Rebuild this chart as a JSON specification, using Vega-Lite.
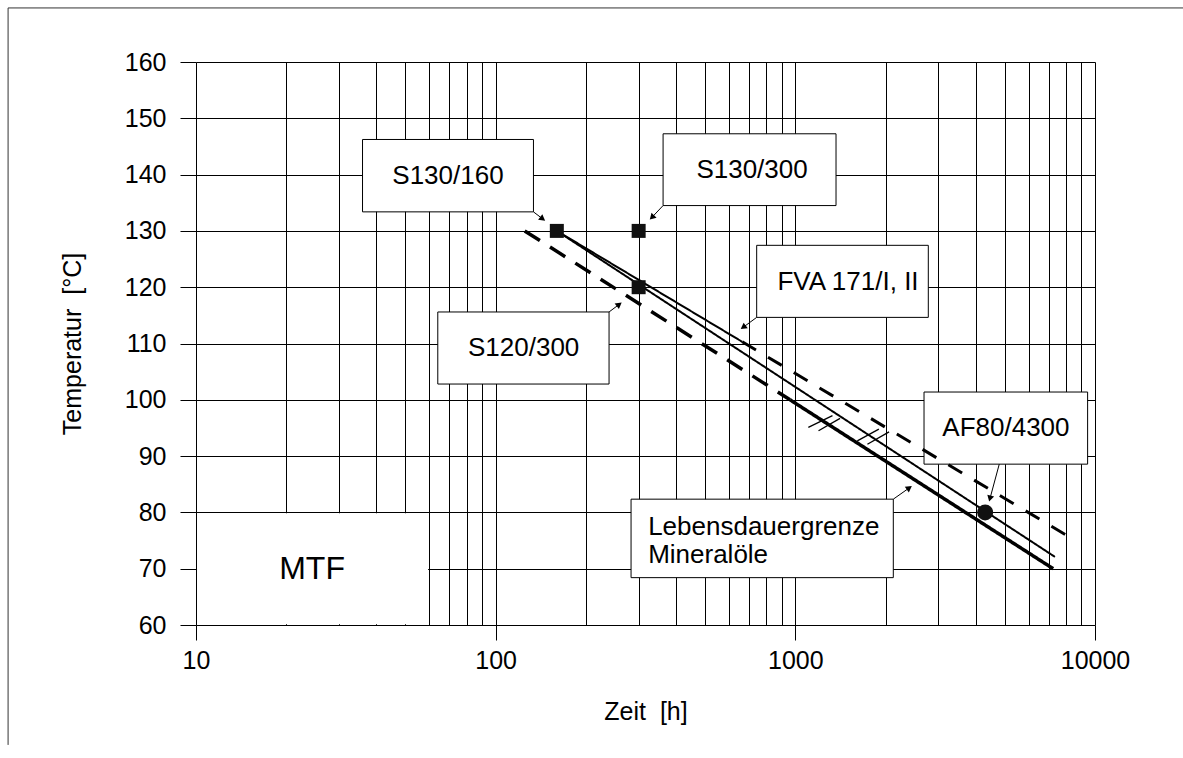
{
  "$schema": "https://vega.github.io/schema/vega-lite/v6.json",
  "width": 899,
  "height": 563,
  "autosize": "none",
  "padding": {"left": 196, "top": 62, "right": 88, "bottom": 133},
  "background": "white",
  "config": {
    "view": {"stroke": null},
    "font": "Liberation Sans",
    "axis": {
      "labelFont": "Liberation Sans",
      "titleFont": "Liberation Sans",
      "labelFontSize": 25,
      "titleFontSize": 25,
      "titleFontWeight": "normal",
      "labelColor": "#000",
      "titleColor": "#000",
      "grid": true,
      "gridColor": "#000",
      "gridOpacity": 1,
      "gridWidth": 1,
      "domain": false,
      "tickColor": "#000",
      "tickWidth": 1
    }
  },
  "datasets": {
    "boxes": [
      {"name": "S130/160", "x1": 35.95, "x2": 133.7, "y1": 133.38, "y2": 146.24},
      {"name": "S130/300", "x1": 362, "x2": 1367, "y1": 134.5, "y2": 147.25},
      {"name": "FVA 171/I, II", "x1": 743, "x2": 2778, "y1": 114.64, "y2": 127.44},
      {"name": "S120/300", "x1": 64.1, "x2": 239, "y1": 102.8, "y2": 115.6},
      {"name": "Lebensdauergrenze", "x1": 283, "x2": 2123, "y1": 68.41, "y2": 82.35},
      {"name": "AF80/4300", "x1": 2688, "x2": 9448, "y1": 88.57, "y2": 101.38}
    ],
    "mtf": [
      {"name": "MTF", "x1": 10.08, "x2": 59.5, "y1": 60.15, "y2": 79.85}
    ],
    "arrows": [
      {"name": "S130/160", "x1": 133.7, "y1": 133.38, "x2": 143.5, "y2": 132.14},
      {"name": "S130/300", "x1": 362, "y1": 134.5, "x2": 332.2, "y2": 132.4},
      {"name": "S120/300", "x1": 239, "y1": 115.6, "x2": 258.4, "y2": 116.95},
      {"name": "FVA 171/I, II", "x1": 743, "y1": 114.64, "x2": 670, "y2": 112.88},
      {"name": "Lebensdauergrenze", "x1": 2123, "y1": 82.35, "x2": 2401, "y2": 84.36},
      {"name": "AF80/4300", "x1": 4792, "y1": 88.57, "x2": 4461, "y2": 82.44}
    ],
    "lines": [
      {"seg": "FVA", "zeit": 160, "temp": 130},
      {"seg": "FVA", "zeit": 665, "temp": 110.3},
      {"seg": "FVA ext", "zeit": 665, "temp": 110.3},
      {"seg": "FVA ext", "zeit": 8000, "temp": 76},
      {"seg": "Versuche", "zeit": 160, "temp": 130},
      {"seg": "Versuche", "zeit": 7350, "temp": 72.1},
      {"seg": "Grenze ext", "zeit": 125, "temp": 130},
      {"seg": "Grenze ext", "zeit": 960, "temp": 100},
      {"seg": "Grenze", "zeit": 960, "temp": 100},
      {"seg": "Grenze", "zeit": 7250, "temp": 70}
    ],
    "hatch": [
      {"h": "1a", "x1": 1105, "y1": 95.1, "x2": 1330, "y2": 97.2},
      {"h": "1b", "x1": 1195, "y1": 94.5, "x2": 1410, "y2": 96.7},
      {"h": "2a", "x1": 1610, "y1": 92.7, "x2": 1900, "y2": 94.8},
      {"h": "2b", "x1": 1740, "y1": 92.1, "x2": 2055, "y2": 94.3}
    ],
    "points": [
      {"name": "S130/160", "zeit": 160, "temp": 130, "typ": "S"},
      {"name": "S130/300", "zeit": 300, "temp": 130, "typ": "S"},
      {"name": "S120/300", "zeit": 300, "temp": 120, "typ": "S"},
      {"name": "AF80/4300", "zeit": 4300, "temp": 80, "typ": "AF"}
    ],
    "labels": [
      {"text": "S130/160", "zeit": 69.3, "temp": 139.8},
      {"text": "S130/300", "zeit": 717, "temp": 140.9},
      {"text": "FVA 171/I, II", "zeit": 1499, "temp": 121.0},
      {"text": "S120/300", "zeit": 124, "temp": 109.2},
      {"text": "AF80/4300", "zeit": 5044, "temp": 95.0}
    ],
    "leftlabels": [
      {"text": "Lebensdauergrenze\nMineralöle", "zeit": 322.7, "temp": 77.4}
    ],
    "mtflabel": [
      {"text": "MTF", "zeit": 24.4, "temp": 70}
    ],
    "frame": [
      {"x1": 2.36, "y1": 169.6, "x2": 2.36, "y2": 38.7},
      {"x1": 2.36, "y1": 169.6, "x2": 30000, "y2": 169.6}
    ]
  },
  "layer": [
    {
      "data": {"name": "boxes"},
      "mark": {"type": "rect", "fill": "white", "stroke": "#000", "strokeWidth": 1},
      "encoding": {
        "x": {
          "field": "x1", "type": "quantitative",
          "scale": {"type": "log", "domain": [10, 10000], "nice": false},
          "axis": {
            "values": [10, 20, 30, 40, 50, 60, 70, 80, 90, 100, 200, 300, 400, 500, 600, 700, 800, 900, 1000, 2000, 3000, 4000, 5000, 6000, 7000, 8000, 9000, 10000],
            "tickSize": 15,
            "tickOpacity": {"condition": {"test": "datum.value == 10 || datum.value == 100 || datum.value == 1000 || datum.value == 10000", "value": 1}, "value": 0},
            "labelExpr": "(datum.value == 10 || datum.value == 100 || datum.value == 1000 || datum.value == 10000) ? format(datum.value, 'd') : ''",
            "labelFlush": false,
            "labelOverlap": false,
            "labelBound": false,
            "labelPadding": 8,
            "title": "Zeit \u00a0[h]",
            "titlePadding": 26
          }
        },
        "x2": {"field": "x2"},
        "y": {
          "field": "y1", "type": "quantitative",
          "scale": {"domain": [60, 160], "nice": false, "zero": false},
          "axis": {
            "values": [60, 70, 80, 90, 100, 110, 120, 130, 140, 150, 160],
            "tickSize": 16,
            "labelPadding": 14,
            "title": "Temperatur \u00a0[°C]",
            "titlePadding": 39
          }
        },
        "y2": {"field": "y2"}
      }
    },
    {
      "data": {"name": "mtf"},
      "mark": {"type": "rect", "fill": "white", "strokeWidth": 0},
      "encoding": {
        "x": {"field": "x1", "type": "quantitative", "scale": {"type": "log", "domain": [10, 10000]}},
        "x2": {"field": "x2"},
        "y": {"field": "y1", "type": "quantitative", "scale": {"domain": [60, 160]}},
        "y2": {"field": "y2"}
      }
    },
    {
      "data": {"name": "arrows"},
      "mark": {"type": "rule", "color": "#000", "strokeWidth": 1},
      "encoding": {
        "x": {"field": "x1", "type": "quantitative", "scale": {"type": "log", "domain": [10, 10000]}},
        "x2": {"field": "x2"},
        "y": {"field": "y1", "type": "quantitative", "scale": {"domain": [60, 160]}},
        "y2": {"field": "y2"}
      }
    },
    {
      "data": {"name": "arrows"},
      "mark": {"type": "point", "shape": "triangle-up", "filled": true, "color": "#000", "size": 50, "opacity": 1},
      "encoding": {
        "x": {"field": "x2", "type": "quantitative", "scale": {"type": "log", "domain": [10, 10000]}},
        "y": {"field": "y2", "type": "quantitative", "scale": {"domain": [60, 160]}},
        "angle": {
          "field": "name", "type": "nominal", "legend": null,
          "scale": {"type": "ordinal",
            "domain": ["S130/160", "S130/300", "S120/300", "FVA 171/I, II", "Lebensdauergrenze", "AF80/4300"],
            "range": [127, 224, 53, 234, 55, 195]}
        }
      }
    },
    {
      "data": {"name": "lines"},
      "mark": {"type": "line", "color": "#000", "strokeCap": "butt"},
      "encoding": {
        "x": {"field": "zeit", "type": "quantitative", "scale": {"type": "log", "domain": [10, 10000]}},
        "y": {"field": "temp", "type": "quantitative", "scale": {"domain": [60, 160]}},
        "detail": {"field": "seg", "type": "nominal"},
        "strokeWidth": {
          "field": "seg", "type": "nominal", "legend": null,
          "scale": {"type": "ordinal",
            "domain": ["FVA", "FVA ext", "Versuche", "Grenze ext", "Grenze"],
            "range": [2, 3, 2, 3.5, 3.5]}
        },
        "strokeDash": {
          "field": "seg", "type": "nominal", "legend": null,
          "scale": {
            "domain": ["FVA", "FVA ext", "Versuche", "Grenze ext", "Grenze"],
            "range": [[1, 0], [16, 14], [1, 0], [18, 12], [1, 0]]}
        }
      }
    },
    {
      "data": {"name": "hatch"},
      "mark": {"type": "rule", "color": "#000", "strokeWidth": 1.3},
      "encoding": {
        "x": {"field": "x1", "type": "quantitative", "scale": {"type": "log", "domain": [10, 10000]}},
        "x2": {"field": "x2"},
        "y": {"field": "y1", "type": "quantitative", "scale": {"domain": [60, 160]}},
        "y2": {"field": "y2"}
      }
    },
    {
      "data": {"name": "points"},
      "mark": {"type": "point", "filled": true, "color": "#111", "opacity": 1},
      "encoding": {
        "x": {"field": "zeit", "type": "quantitative", "scale": {"type": "log", "domain": [10, 10000]}},
        "y": {"field": "temp", "type": "quantitative", "scale": {"domain": [60, 160]}},
        "shape": {"field": "typ", "type": "nominal", "legend": null,
          "scale": {"domain": ["S", "AF"], "range": ["square", "circle"]}},
        "size": {"field": "typ", "type": "nominal", "legend": null,
          "scale": {"type": "ordinal", "domain": ["S", "AF"], "range": [196, 256]}}
      }
    },
    {
      "data": {"name": "labels"},
      "mark": {"type": "text", "font": "Liberation Sans", "fontSize": 26, "align": "center", "baseline": "middle", "color": "#000"},
      "encoding": {
        "x": {"field": "zeit", "type": "quantitative", "scale": {"type": "log", "domain": [10, 10000]}},
        "y": {"field": "temp", "type": "quantitative", "scale": {"domain": [60, 160]}},
        "text": {"field": "text"}
      }
    },
    {
      "data": {"name": "leftlabels"},
      "mark": {"type": "text", "font": "Liberation Sans", "fontSize": 26, "align": "left", "baseline": "middle", "lineBreak": "\n", "lineHeight": 28, "color": "#000"},
      "encoding": {
        "x": {"field": "zeit", "type": "quantitative", "scale": {"type": "log", "domain": [10, 10000]}},
        "y": {"field": "temp", "type": "quantitative", "scale": {"domain": [60, 160]}},
        "text": {"field": "text"}
      }
    },
    {
      "data": {"name": "mtflabel"},
      "mark": {"type": "text", "font": "Liberation Sans", "fontSize": 32, "align": "center", "baseline": "middle", "color": "#000"},
      "encoding": {
        "x": {"field": "zeit", "type": "quantitative", "scale": {"type": "log", "domain": [10, 10000]}},
        "y": {"field": "temp", "type": "quantitative", "scale": {"domain": [60, 160]}},
        "text": {"field": "text"}
      }
    },
    {
      "data": {"name": "frame"},
      "mark": {"type": "rule", "color": "#333", "strokeWidth": 1, "clip": false},
      "encoding": {
        "x": {"field": "x1", "type": "quantitative", "scale": {"type": "log", "domain": [10, 10000]}},
        "x2": {"field": "x2"},
        "y": {"field": "y1", "type": "quantitative", "scale": {"domain": [60, 160]}},
        "y2": {"field": "y2"}
      }
    }
  ]
}
